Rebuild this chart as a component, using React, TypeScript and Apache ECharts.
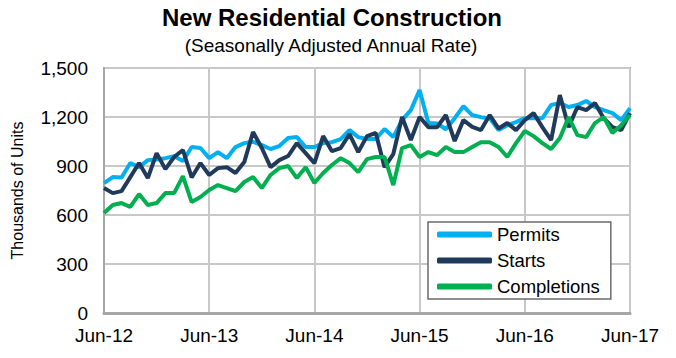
import React, { useEffect, useRef } from "react";
import * as echarts from "echarts";

const MONTHS = ["Jan", "Feb", "Mar", "Apr", "May", "Jun", "Jul", "Aug", "Sep", "Oct", "Nov", "Dec"];
const categories: string[] = [];
for (let i = 0; i < 61; i++) {
  const m = (5 + i) % 12;
  const y = 12 + Math.floor((5 + i) / 12);
  categories.push(`${MONTHS[m]}-${y}`);
}

const permits = [
  795, 832, 830, 918, 893, 936, 940, 948, 960, 930, 1016, 1010,
  948, 985, 948, 1016, 1040, 1048, 1028, 1004, 1022, 1071, 1077, 1016,
  1016, 1040, 1046, 1065, 1120, 1077, 1065, 1065, 1126, 1077, 1181, 1242,
  1365, 1163, 1160, 1125, 1193, 1266, 1212, 1199, 1193, 1120, 1150, 1169,
  1193, 1193, 1193, 1273, 1285, 1261, 1273, 1298, 1261, 1242, 1224, 1181,
  1254,
];
const starts = [
  765, 734, 746, 832, 918, 826, 979, 881, 955, 998, 830, 918,
  845, 887, 893, 857, 924, 1108, 1010, 893, 936, 961, 1040, 979,
  918, 1083, 991, 1010, 1095, 985, 1083, 1102, 893, 973, 1200, 1059,
  1200, 1138, 1138, 1212, 1053, 1181, 1140, 1120, 1212, 1130, 1163, 1120,
  1181, 1224, 1138, 1059, 1334, 1138, 1261, 1242, 1285, 1193, 1138, 1120,
  1224,
];
const completions = [
  612, 661, 673, 649, 728, 661, 673, 734, 734, 838, 679, 710,
  753, 783, 765, 746, 802, 832, 765, 845, 887, 900, 826, 893,
  796, 857, 906, 948, 918, 863, 942, 955, 955, 783, 1010, 1028,
  955, 985, 967, 1016, 985, 985, 1016, 1046, 1046, 1016, 955, 1040,
  1114, 1083, 1040, 1004, 1071, 1199, 1089, 1077, 1163, 1199, 1102, 1150,
  1212,
];
const yTicks = { min: 0, max: 1500, interval: 300 };

const FONT = "Liberation Sans, Arial, sans-serif";

export default function App() {
  const ref = useRef<HTMLDivElement>(null);
  useEffect(() => {
    if (!ref.current) return;
    const chart = echarts.init(ref.current, undefined, { renderer: "svg" });
    chart.setOption({
      animation: false,
      backgroundColor: "#ffffff",
      textStyle: { fontFamily: FONT },
      graphic: [
        {
          type: "text",
          x: 332,
          y: 5,
          style: {
            text: "New Residential Construction",
            font: `bold 24px ${FONT}`,
            fill: "#000",
            align: "center",
          },
        },
        {
          type: "text",
          x: 331,
          y: 36,
          style: {
            text: "(Seasonally Adjusted Annual Rate)",
            font: `19px ${FONT}`,
            fill: "#000",
            align: "center",
          },
        },
      ],
      grid: {
        left: 104,
        right: 46,
        top: 68,
        bottom: 45,
        show: true,
        borderColor: "#a6a6a6",
        borderWidth: 2,
      },
      legend: {
        orient: "vertical",
        left: 428,
        top: 222,
        padding: [3, 11, 3, 9],
        itemGap: 7,
        itemWidth: 55,
        itemHeight: 6,
        icon: "roundRect",
        borderColor: "#6b6b6b",
        borderWidth: 1.5,
        backgroundColor: "#fff",
        textStyle: { fontSize: 18.5, color: "#000", fontFamily: FONT, lineHeight: 16 },
        data: ["Permits", "Starts", "Completions"],
      },
      xAxis: {
        type: "category",
        data: categories,
        boundaryGap: false,
        axisLine: { lineStyle: { color: "#a6a6a6", width: 3 } },
        axisTick: { show: false },
        axisLabel: { interval: 11, fontSize: 19, color: "#000", margin: 13, fontFamily: FONT },
        splitLine: { show: true, interval: 11, lineStyle: { color: "#c8c8c8", width: 2 } },
      },
      yAxis: {
        type: "value",
        min: yTicks.min,
        max: yTicks.max,
        interval: yTicks.interval,
        name: "Thousands of Units",
        nameLocation: "middle",
        nameGap: 79,
        nameTextStyle: { fontSize: 16, color: "#000", fontFamily: FONT },
        axisLine: { show: true, lineStyle: { color: "#a6a6a6", width: 2 } },
        axisTick: { show: false },
        axisLabel: {
          fontSize: 19,
          color: "#000",
          margin: 16,
          fontFamily: FONT,
          formatter: (v: number) => v.toLocaleString("en-US"),
        },
        splitLine: { lineStyle: { color: "#c8c8c8", width: 2 } },
      },
      series: [
        { name: "Permits", type: "line", data: permits, symbol: "none", color: "#00b0f0", lineStyle: { width: 4, color: "#00b0f0" } },
        { name: "Starts", type: "line", data: starts, symbol: "none", color: "#203a5c", lineStyle: { width: 4, color: "#203a5c" } },
        { name: "Completions", type: "line", data: completions, symbol: "none", color: "#00b050", lineStyle: { width: 4, color: "#00b050" } },
      ],
    });
    return () => chart.dispose();
  }, []);
  return <div ref={ref} style={{ width: 676, height: 358, position: "absolute", left: 0, top: 0 }} />;
}
